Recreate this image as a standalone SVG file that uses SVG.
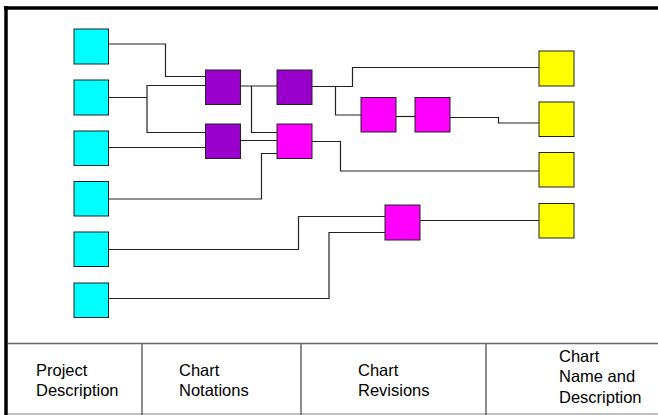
<svg xmlns="http://www.w3.org/2000/svg" width="658" height="415" viewBox="0 0 658 415">
<style>
.b{stroke:#222;stroke-width:1}
.c{fill:#00ffff}
.p{fill:#9900cc}
.m{fill:#ff00ff}
.y{fill:#ffff00}
.w{fill:none;stroke:#222;stroke-width:1.2}
.t{font-family:"Liberation Sans",Arial,sans-serif;font-size:16.5px;fill:#000}
.g{stroke:#666;stroke-width:1.5;fill:none}
</style>
<rect width="658" height="415" fill="#fff"/>
<g id="frame">
<line x1="4" y1="8" x2="658" y2="8" stroke="#000" stroke-width="3.5"/>
<line x1="6" y1="6" x2="6" y2="415" stroke="#000" stroke-width="3.5"/>
<line x1="8" y1="343.5" x2="658" y2="343.5" class="g"/>
<line x1="8" y1="414" x2="658" y2="414" stroke="#aaa" stroke-width="1.5"/>
<line x1="142" y1="343.5" x2="142" y2="415" class="g"/>
<line x1="301" y1="343.5" x2="301" y2="415" class="g"/>
<line x1="486" y1="343.5" x2="486" y2="415" class="g"/>
</g>
<g id="connectors">
<polyline class="w" points="108,44 165.5,44 165.5,76.5 205,76.5"/>
<polyline class="w" points="108,97.5 147,97.5"/>
<polyline class="w" points="205,85.5 147,85.5 147,132.5 205,132.5"/>
<polyline class="w" points="108,147.5 205,147.5"/>
<polyline class="w" points="108,199 261.5,199 261.5,153.5 277,153.5"/>
<polyline class="w" points="241,86 277,86"/>
<polyline class="w" points="251.5,86 251.5,132.5 277,132.5"/>
<polyline class="w" points="241,140.5 277,140.5"/>
<polyline class="w" points="312,86.5 352.5,86.5 352.5,67.5 539,67.5"/>
<polyline class="w" points="335.5,86.5 335.5,115 361,115"/>
<polyline class="w" points="396,116.5 415,116.5"/>
<polyline class="w" points="450,117.5 498.5,117.5 498.5,123 539,123"/>
<polyline class="w" points="312,141.5 340.5,141.5 340.5,171 539,171"/>
<polyline class="w" points="420,220.5 539,220.5"/>
<polyline class="w" points="108,249.5 298.5,249.5 298.5,216.5 385,216.5"/>
<polyline class="w" points="108,298.5 329,298.5 329,232.5 385,232.5"/>
</g>
<g id="cyan1"><rect class="b c" x="74" y="29" width="34.5" height="35"/></g>
<g id="cyan2"><rect class="b c" x="74" y="80" width="34.5" height="35"/></g>
<g id="cyan3"><rect class="b c" x="74" y="131" width="34.5" height="34.5"/></g>
<g id="cyan4"><rect class="b c" x="74" y="181.5" width="34.5" height="34.5"/></g>
<g id="cyan5"><rect class="b c" x="74" y="232" width="34.5" height="34.5"/></g>
<g id="cyan6"><rect class="b c" x="74" y="283" width="34.5" height="34.5"/></g>
<g id="purple1"><rect class="b p" x="205.5" y="70" width="35" height="34.5"/></g>
<g id="purple2"><rect class="b p" x="205.5" y="124" width="35" height="34.5"/></g>
<g id="purple3"><rect class="b p" x="277" y="70" width="35" height="34.5"/></g>
<g id="magenta1"><rect class="b m" x="277" y="124" width="35" height="34.5"/></g>
<g id="magenta2"><rect class="b m" x="361" y="97.5" width="35" height="34.5"/></g>
<g id="magenta3"><rect class="b m" x="415" y="97.5" width="35" height="34.5"/></g>
<g id="magenta4"><rect class="b m" x="385" y="205" width="35" height="35"/></g>
<g id="yellow1"><rect class="b y" x="539" y="51" width="35" height="35"/></g>
<g id="yellow2"><rect class="b y" x="539" y="102" width="35" height="34.5"/></g>
<g id="yellow3"><rect class="b y" x="539" y="152.5" width="35" height="34.5"/></g>
<g id="yellow4"><rect class="b y" x="539" y="203.5" width="35" height="34.5"/></g>
<g id="labels">
<text class="t" x="36" y="375.5">Project</text>
<text class="t" x="36" y="395.5">Description</text>
<text class="t" x="179" y="375.5">Chart</text>
<text class="t" x="179" y="395.5">Notations</text>
<text class="t" x="358" y="375.5">Chart</text>
<text class="t" x="358" y="395.5">Revisions</text>
<text class="t" x="559" y="361.5">Chart</text>
<text class="t" x="559" y="382">Name and</text>
<text class="t" x="559" y="402.5">Description</text>
</g>
</svg>
